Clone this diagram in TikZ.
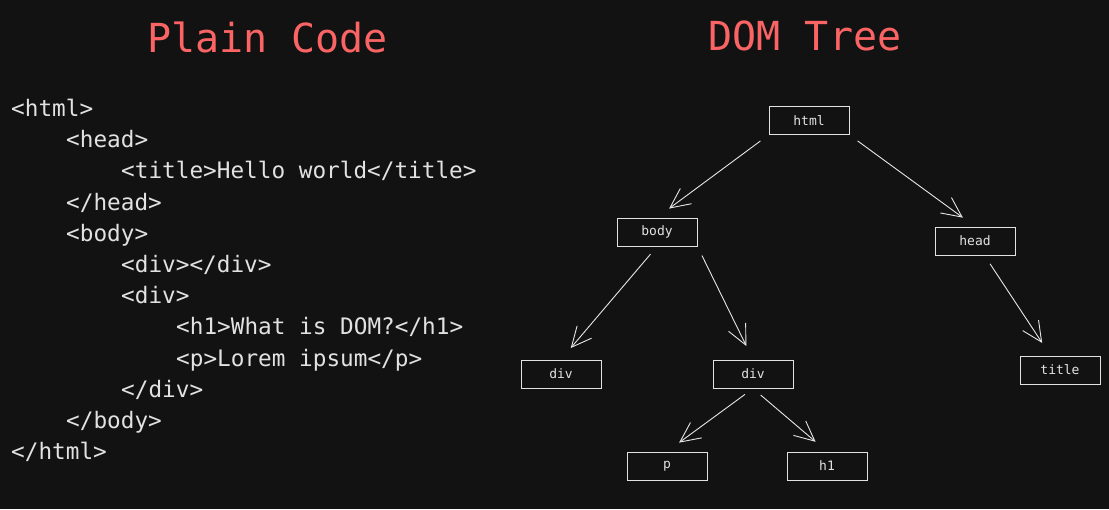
\documentclass[tikz,border=0pt]{standalone}
\usepackage{fontspec}
\setmonofont{DejaVu Sans Mono}
\usetikzlibrary{arrows.meta}
\definecolor{bg}{RGB}{18,18,18}
\definecolor{ink}{RGB}{226,226,226}
\definecolor{salmon}{RGB}{250,100,100}
\tikzset{
  tag/.style={draw=ink, line width=1pt, minimum width=80pt, minimum height=28pt,
    inner sep=0pt, text=ink, font=\ttfamily\fontsize{13}{13}\selectfont},
  codeline/.style={anchor=base west, inner sep=0pt, text=ink,
    font=\ttfamily\fontsize{22.7}{22.7}\selectfont},
  heading/.style={anchor=base, inner sep=0pt, text=salmon,
    font=\ttfamily\fontsize{40}{40}\selectfont},
  link/.style={draw=ink!85, line width=0.9pt, shorten <=10pt, shorten >=15pt,
    -{Straight Barb[length=20pt,width=19pt]}}
}
\begin{document}
\begin{tikzpicture}[x=1pt, y=-1pt]
    \fill[bg] (0,0) rectangle (1109,509);

    % headings
    \node[heading] (plain) at (267.5,52) {Plain Code};
    \node[heading] (dom) at (805,50) {DOM Tree};

    % source
    \node[codeline] (l1)  at (11,116)  {<html>};
    \node[codeline] (l2)  at (66,147)  {<head>};
    \node[codeline] (l3)  at (121,178) {<title>Hello world</title>};
    \node[codeline] (l4)  at (66,210)  {</head>};
    \node[codeline] (l5)  at (66,241)  {<body>};
    \node[codeline] (l6)  at (121,272) {<div></div>};
    \node[codeline] (l7)  at (121,303) {<div>};
    \node[codeline] (l8)  at (176,334) {<h1>What is DOM?</h1>};
    \node[codeline] (l9)  at (176,366) {<p>Lorem ipsum</p>};
    \node[codeline] (l10) at (121,397) {</div>};
    \node[codeline] (l11) at (66,428)  {</body>};
    \node[codeline] (l12) at (11,459)  {</html>};

    % tree
    \node[tag] (html)  at (809,120.5) {html};
    \node[tag] (body)  at (657,232)   {body};
    \node[tag] (head)  at (975,241)   {head};
    \node[tag] (diva)  at (561,374)   {div};
    \node[tag] (divb)  at (753,374)   {div};
    \node[tag] (title) at (1060,370)  {title};
    \node[tag] (p)     at (667,466)   {p};
    \node[tag] (h1)    at (827,466)   {h1};

    \draw[link] (html.south west) -- (body.north);
    \draw[link] (html.south east) -- (head.north);
    \draw[link] (body.south) -- (diva.north);
    \draw[link] (body.south east) -- (divb.north);
    \draw[link] (head) -- (title);
    \draw[link] (divb.south) -- (p.north);
    \draw[link] (divb.south) -- (h1.north);
\end{tikzpicture}
\end{document}
